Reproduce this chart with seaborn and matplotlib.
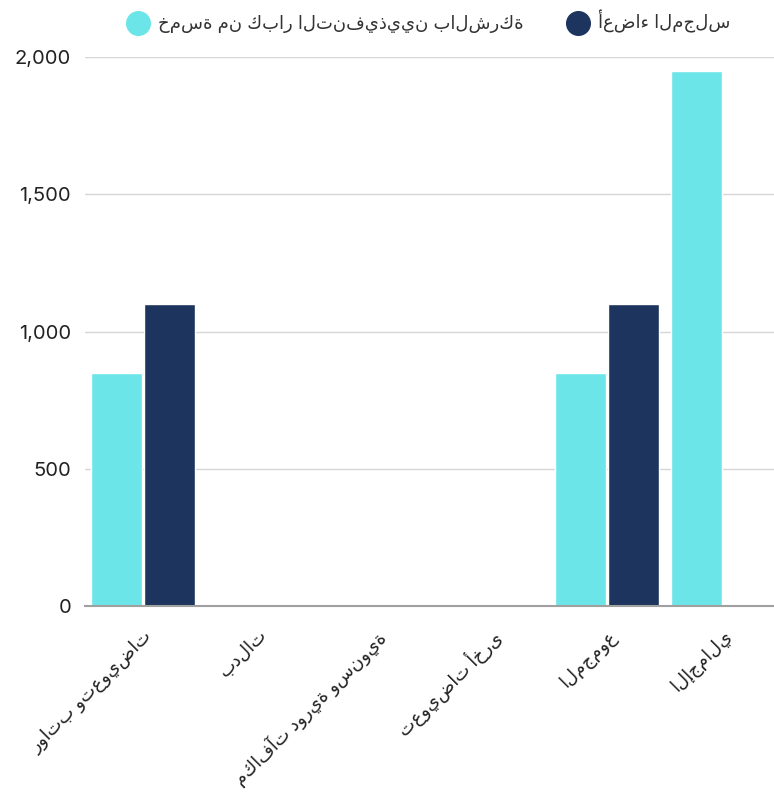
import matplotlib
matplotlib.use("Agg")
import matplotlib.pyplot as plt
from matplotlib.lines import Line2D
import seaborn as sns
import pandas as pd
import numpy as np

categories = ["رواتب وتعويضات", "بدلات", "مكافآت دورية وسنوية", "تعويضات أخرى", "المجموع", "الإجمالي"]
series_names = ["خمسة من كبار التنفيذيين بالشركة", "أعضاء المجلس"]
executives = [850, 0, 0, 0, 850, 1950]
board = [1100, 0, 0, 0, 1100, np.nan]
colors = ["#6CE5E8", "#1C345E"]
y_ticks = [0, 500, 1000, 1500, 2000]

sns.set_theme(style="white")
plt.rcParams["font.family"] = ["Inter", "DejaVu Sans"]

df = pd.DataFrame({
    "category": categories * 2,
    "series": [series_names[0]] * 6 + [series_names[1]] * 6,
    "value": executives + board,
})

fig = plt.figure(figsize=(7.74, 8.0), dpi=100)
ax = fig.add_axes([85 / 774, 194 / 800, 1 - 85 / 774, 549 / 800])

sns.barplot(data=df, x="category", y="value", hue="series", palette=colors,
            width=0.905, gap=0.03, ax=ax, saturation=1, legend=False)

ax.set_xlim(-0.5, (774 - 85) / 116 - 0.5)
ax.set_ylim(0, 2000)
ax.set_yticks(y_ticks)
ax.set_yticklabels([f"{v:,}" for v in y_ticks], fontsize=14.5, color="#222222")
ax.yaxis.grid(True, color="#d6d6d6", linewidth=1)
ax.set_axisbelow(True)
for s in ["left", "right", "top"]:
    ax.spines[s].set_visible(False)
ax.spines["bottom"].set_color("#a0a0a0")
ax.spines["bottom"].set_linewidth(1.5)
ax.tick_params(axis="y", length=0, pad=10)
ax.tick_params(axis="x", length=0, pad=15)
ax.set_xlabel("")
ax.set_ylabel("")
ax.set_xticks(range(len(categories)))
ax.set_xticklabels(categories, rotation=45, ha="right", rotation_mode="anchor",
                   fontsize=13, color="#222222")

# legend with circle markers
handles = [Line2D([0], [0], marker="o", linestyle="", markersize=17,
                  markerfacecolor=c, markeredgecolor=c) for c in colors]
ax.legend(handles, series_names, loc="upper center", bbox_to_anchor=(0.5, 1.0 + 63 / 549),
          ncol=2, frameon=False, fontsize=13, handlelength=1.0, columnspacing=2.5,
          handletextpad=0.6, labelcolor="#333333")

fig.savefig("out.png", dpi=100)
